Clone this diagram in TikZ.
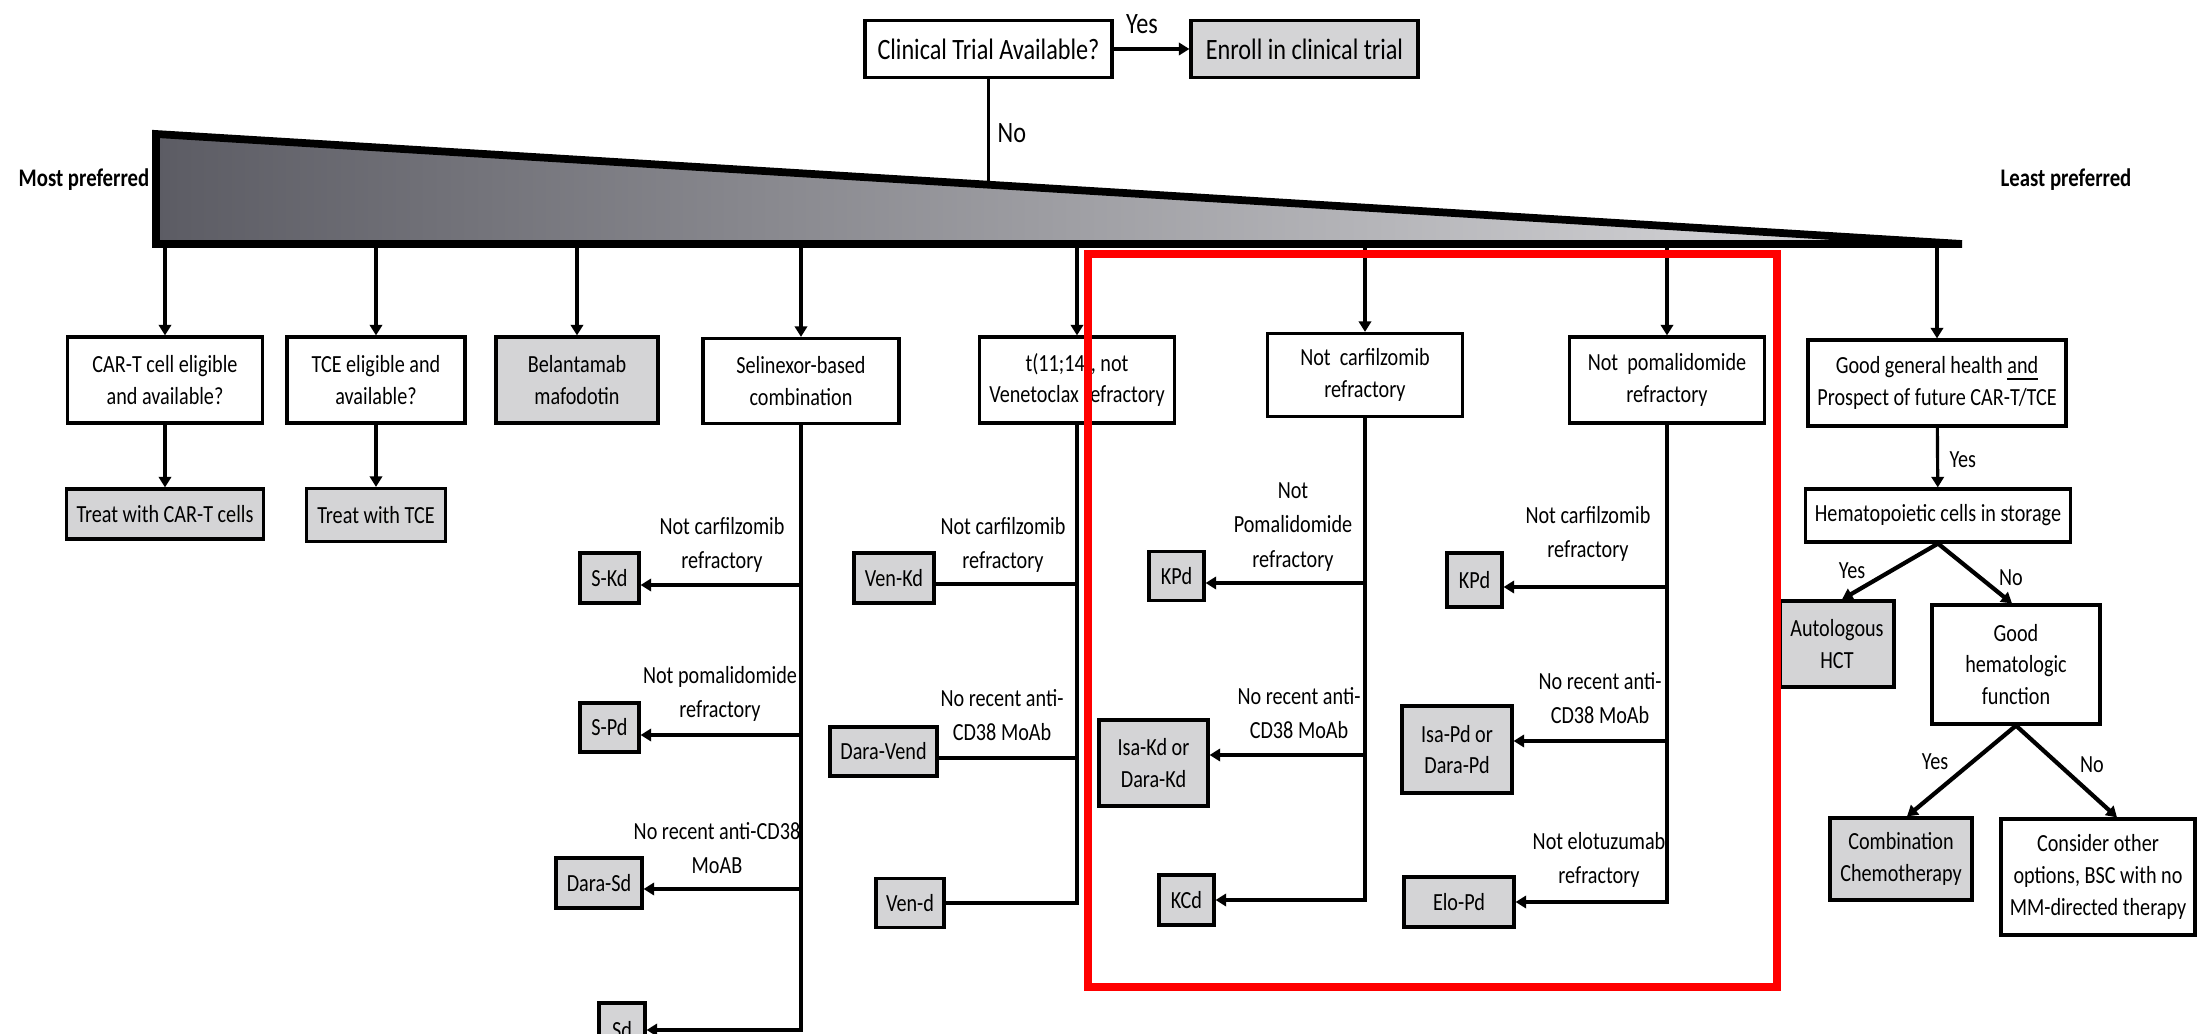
\documentclass[tikz,border=0pt]{standalone}
\usepackage{fontspec}
\setmainfont{Carlito}[FakeStretch=0.82]
\usetikzlibrary{arrows.meta,calc}
\definecolor{boxgray}{RGB}{212,212,214}
\definecolor{trileft}{RGB}{92,92,100}
\definecolor{triright}{RGB}{224,224,226}
\definecolor{framered}{RGB}{255,0,0}

\begin{document}
\begin{tikzpicture}[x=0.01cm,y=-0.01cm,
  every node/.style={font=\fontsize{7}{9}\selectfont, align=center, inner sep=0pt},
  sz/.style 2 args={minimum width=#1*0.01cm, minimum height=#2*0.01cm},
  wbox/.style={draw, line width=0.9pt, fill=white},
  gbox/.style={draw, line width=0.9pt, fill=boxgray},
  lbl/.style={font=\fontsize{7}{9.8}\selectfont},
  big/.style={font=\fontsize{8.4}{10}\selectfont},
  pref/.style={font=\bfseries\fontsize{7.2}{9}\selectfont},
  conn/.style={line width=0.9pt},
  arr/.style={line width=0.9pt, -{Triangle[length=3pt,width=3.5pt]}},
]
\useasboundingbox (0,0) rectangle (2199,1034);
\clip (0,0) rectangle (2199,1034);
\fill[white] (0,0) rectangle (2199,1034);

% ---------- entry question ----------
\node[wbox,big,sz={247}{57}] (ct) at (988.5,49) {Clinical Trial Available?};
\node[gbox,big,sz={227}{57}] (enroll) at (1304.5,49) {Enroll in clinical trial};
\draw[arr] (ct) -- (enroll);
\node[big] (yes0) at (1142,24) {Yes};

% ---------- preference wedge ----------
\coordinate (tl) at (156,134);
\coordinate (bl) at (156,244);
\coordinate (tip) at (1962,244);
\shade[left color=trileft, right color=triright] (tl) -- (tip) -- (bl) -- cycle;
\draw[line width=2.2pt, line join=miter] (tl) -- (tip) -- (bl) -- cycle;
\node[pref] (most) at (84,180) {Most preferred};
\node[pref] (least) at (2066,180) {Least preferred};

\coordinate (notop) at (988.5,185);
\draw[conn] (ct.south) -- (notop);
\node[big, anchor=west] (no0) at (997,133) {No};

% ---------- first row of options ----------
\node[wbox,sz={195}{86}] (cart) at (165,380) {CAR-T cell eligible\\and available?};
\node[wbox,sz={178}{86}] (tce) at (376,380) {TCE eligible and\\available?};
\node[gbox,sz={162}{86}] (bela) at (577,380) {Belantamab\\mafodotin};
\node[wbox,sz={196}{85}] (sel) at (801,381) {Selinexor-based\\combination};
\node[wbox,sz={195}{86}] (t1114) at (1077,380) {t(11;14), not\\Venetoclax refractory};
\node[wbox,sz={195}{83}] (ncarf) at (1365,375) {Not\ \ carfilzomib\\refractory};
\node[wbox,sz={195}{86}] (npom) at (1667,380) {Not\ \ pomalidomide\\refractory};
\node[wbox,sz={258}{86}] (ggh) at (1937,383) {Good general health \underline{and}\\Prospect of future CAR-T/TCE};

\foreach \n/\x in {cart/165, tce/376, bela/577, sel/801, t1114/1077, ncarf/1365, npom/1667, ggh/1937}{
  \coordinate (d-\n) at (\x,248);
  \draw[arr] (d-\n) -- (\n);
}

% ---------- CAR-T / TCE ----------
\node[gbox,sz={197}{50}] (treatcar) at (165,514) {Treat with CAR-T cells};
\node[gbox,sz={139}{53}] (treattce) at (376,515) {Treat with TCE};
\draw[arr] (cart) -- (treatcar);
\draw[arr] (tce) -- (treattce);

% ---------- selinexor branch ----------
\node[gbox,sz={59}{50}] (skd) at (609.5,578) {S-Kd};
\node[gbox,sz={59}{49}] (spd) at (609.5,727.5) {S-Pd};
\node[gbox,sz={86}{50}] (dsd) at (599,883) {Dara-Sd};
\node[gbox,sz={46}{54}] (sd) at (622,1030) {Sd};
\draw[arr] (sel.south) |- (sd.east);
\coordinate (s1) at (801,585);
\coordinate (s2) at (801,735);
\coordinate (s3) at (801,889);
\draw[arr] (s1) -- (s1 -| skd.east);
\draw[arr] (s2) -- (s2 -| spd.east);
\draw[arr] (s3) -- (s3 -| dsd.east);
\node[lbl] (ls1) at (722,545) {Not carfilzomib\\refractory};
\node[lbl] (ls2) at (720,694) {Not pomalidomide\\refractory};
\node[lbl] (ls3) at (717,848) {No recent anti-CD38\\MoAB};

% ---------- venetoclax branch ----------
\node[gbox,sz={80}{50}] (vkd) at (894,578) {Ven-Kd};
\node[gbox,sz={107}{49}] (dvend) at (883.5,751.5) {Dara-Vend};
\node[gbox,sz={68}{49}] (vd) at (910,903) {Ven-d};
\draw[conn] (t1114.south) |- (vd.east);
\coordinate (v1) at (1077,584);
\coordinate (v2) at (1077,758);
\draw[conn] (v1) -- (v1 -| vkd.east);
\draw[conn] (v2) -- (v2 -| dvend.east);
\node[lbl] (lv1) at (1003,545) {Not carfilzomib\\refractory};
\node[lbl] (lv2) at (1002,715) {No recent anti-\\CD38 MoAb};

% ---------- not carfilzomib refractory ----------
\node[gbox,sz={55}{49}] (kpd1) at (1176.5,576) {KPd};
\node[gbox,sz={109}{86}] (isakd) at (1153.5,763) {Isa-Kd or\\Dara-Kd};
\node[gbox,sz={55}{50}] (kcd) at (1186.5,900) {KCd};
\draw[arr] (ncarf.south) |- (kcd.east);
\coordinate (r1) at (1365,583);
\coordinate (r2) at (1365,755);
\draw[arr] (r1) -- (r1 -| kpd1.east);
\draw[arr] (r2) -- (r2 -| isakd.east);
\node[lbl] (lr1) at (1293,527) {Not\\Pomalidomide\\refractory};
\node[lbl] (lr2) at (1299,713) {No recent anti-\\CD38 MoAb};

% ---------- not pomalidomide refractory ----------
\node[gbox,sz={55}{54}] (kpd2) at (1474.5,580) {KPd};
\node[gbox,sz={110}{87}] (isapd) at (1457,749.5) {Isa-Pd or\\Dara-Pd};
\node[gbox,sz={110}{50}] (elopd) at (1459,902) {Elo-Pd};
\draw[arr] (npom.south) |- (elopd.east);
\coordinate (r3) at (1667,587);
\coordinate (r4) at (1667,741);
\draw[arr] (r3) -- (r3 -| kpd2.east);
\draw[arr] (r4) -- (r4 -| isapd.east);
\node[lbl] (lr3) at (1588,534) {Not carfilzomib\\refractory};
\node[lbl] (lr4) at (1600,698) {No recent anti-\\CD38 MoAb};
\node[lbl] (lr5) at (1599,860) {Not elotuzumab\\refractory};

% ---------- transplant branch ----------
\node[wbox,sz={265}{53}] (hema) at (1938,515.5) {Hematopoietic cells in storage};
\draw[arr] (ggh) -- (hema);
\node[anchor=west] (yes1) at (1949,460) {Yes};
\node[gbox,sz={114}{86}] (auto) at (1837,644) {Autologous\\HCT};
\node[wbox,sz={168}{119}] (ghf) at (2016,664.5) {Good\\hematologic\\function};
\node[gbox,sz={142}{82}] (comb) at (1901,859) {Combination\\Chemotherapy};
\node[wbox,sz={194}{116}] (cons) at (2098,877) {Consider other\\options, BSC with no\\MM-directed therapy};
\draw[line width=1.2pt, -{Triangle[length=3pt,width=3.5pt]}] (hema.south) -- ([xshift=0.05cm]auto.north);
\draw[line width=1.2pt, -{Triangle[length=3pt,width=3.5pt]}] (hema.south) -- ([xshift=-0.04cm]ghf.north);
\draw[line width=1.2pt, -{Triangle[length=3pt,width=3.5pt]}] (ghf.south) -- ([xshift=0.06cm]comb.north);
\draw[line width=1.2pt, -{Triangle[length=3pt,width=3.5pt]}] (ghf.south) -- ([xshift=0.19cm]cons.north);
\node (yes2) at (1852,571) {Yes};
\node (no2) at (2011,578) {No};
\node (yes3) at (1935,762) {Yes};
\node (no3) at (2092,765) {No};

% ---------- highlight frame ----------
\draw[framered, line width=2.3pt] (1088,254) rectangle (1777,987);
\end{tikzpicture}
\end{document}
